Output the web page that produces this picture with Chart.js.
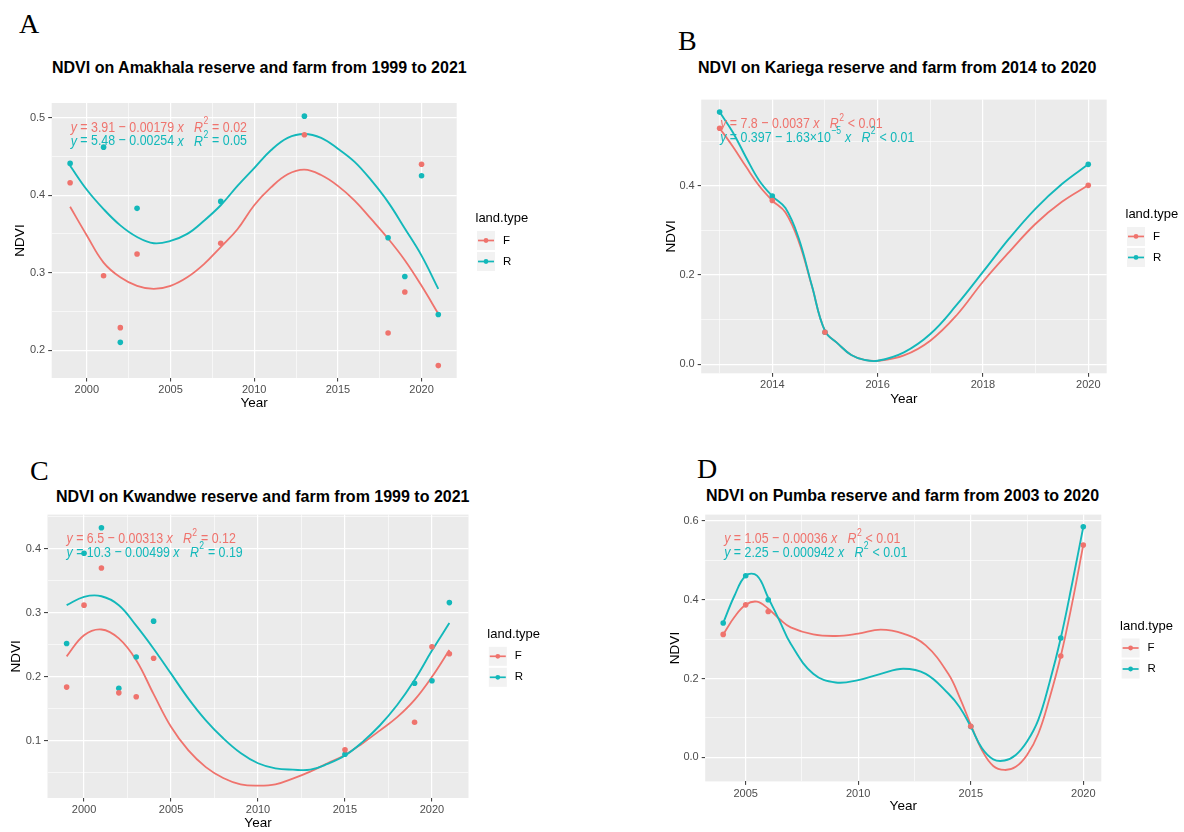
<!DOCTYPE html>
<html>
<head>
<meta charset="utf-8">
<title>NDVI on reserves and farms</title>
<script src="https://cdn.jsdelivr.net/npm/chart.js@4.4.1/dist/chart.umd.min.js"></script>
<style>
  html, body { margin: 0; padding: 0; background: #ffffff; }
  body { width: 1184px; height: 832px; position: relative; overflow: hidden;
         font-family: "Liberation Sans", Arial, sans-serif; }
  .letter { position: absolute; font-family: "Liberation Serif", "Times New Roman", serif;
            font-size: 28px; line-height: 28px; color: #000; }
  .title { position: absolute; font-weight: bold; font-size: 16px; line-height: 16px;
           color: #000; white-space: nowrap; }
  canvas { position: absolute; }
</style>
</head>
<body>
<div class="letter" style="left:19px;top:10px">A</div>
<div class="letter" style="left:678px;top:27px">B</div>
<div class="letter" style="left:30px;top:457px">C</div>
<div class="letter" style="left:697px;top:455px">D</div>

<div class="title" style="left:52px;top:60px">NDVI on Amakhala reserve and farm from 1999 to 2021</div>
<div class="title" style="left:698px;top:60px">NDVI on Kariega reserve and farm from 2014 to 2020</div>
<div class="title" style="left:56px;top:489px">NDVI on Kwandwe reserve and farm from 1999 to 2021</div>
<div class="title" style="left:706px;top:488px">NDVI on Pumba reserve and farm from 2003 to 2020</div>

<canvas id="chartA" width="592" height="340" style="left:0px;top:90px"></canvas>
<canvas id="chartB" width="584" height="340" style="left:600px;top:90px"></canvas>
<canvas id="chartC" width="592" height="327" style="left:0px;top:505px"></canvas>
<canvas id="chartD" width="584" height="327" style="left:600px;top:505px"></canvas>

<script>
// ---------- shared labels ----------
const seriesNames = ['F', 'R'];
const legendTitle = 'land.type';
const xAxisTitle = 'Year';
const yAxisTitle = 'NDVI';

// ---------- Amakhala (1999-2021) ----------
const amakhalaYears = [1999, 2001, 2002, 2003, 2008, 2013, 2018, 2019, 2020, 2021];
const amakhalaFarm = [0.416, 0.296, 0.229, 0.324, 0.338, 0.478, 0.222, 0.275, 0.440, 0.180];
const amakhalaReserve = [0.441, 0.462, 0.210, 0.383, 0.392, 0.502, 0.345, 0.295, 0.425, 0.246];
const amakhalaFitYears = [1999, 2000, 2001, 2002, 2003, 2004, 2005, 2006, 2007, 2008, 2009, 2010,
                          2011, 2012, 2013, 2014, 2015, 2016, 2017, 2018, 2019, 2020, 2021];
const amakhalaFarmFit = [0.385, 0.348, 0.313, 0.294, 0.283, 0.279, 0.283, 0.294, 0.311, 0.333, 0.356, 0.387,
                         0.410, 0.427, 0.433, 0.426, 0.412, 0.393, 0.369, 0.344, 0.316, 0.283, 0.247];
const amakhalaReserveFit = [0.438, 0.407, 0.382, 0.361, 0.346, 0.338, 0.341, 0.350, 0.367, 0.387, 0.412, 0.435,
                            0.458, 0.474, 0.479, 0.474, 0.460, 0.443, 0.419, 0.391, 0.357, 0.322, 0.279];
const amakhalaXTicks = ['2000', '2005', '2010', '2015', '2020'];
const amakhalaYTicks = ['0.2', '0.3', '0.4', '0.5'];
const amakhalaEquations = ['y = 3.91 − 0.00179 x   R^2 = 0.02', 'y = 5.48 − 0.00254 x   R^2 = 0.05'];

// ---------- Kariega (2013-2020) ----------
const kariegaYears = [2013, 2014, 2015, 2020];
const kariegaFarm = [0.529, 0.367, 0.072, 0.401];
const kariegaReserve = [0.565, 0.377, 0.072, 0.448];
const kariegaFitYears = [2013, 2013.25, 2013.5, 2013.75, 2014, 2014.25, 2014.5, 2014.75, 2015, 2015.25, 2015.5,
                         2015.75, 2016, 2016.5, 2017, 2017.5, 2018, 2018.5, 2019, 2019.5, 2020];
const kariegaFarmFit = [0.529, 0.488, 0.443, 0.400, 0.367, 0.340, 0.276, 0.176, 0.075, 0.046, 0.021,
                        0.010, 0.008, 0.020, 0.053, 0.110, 0.185, 0.252, 0.315, 0.364, 0.401];
const kariegaReserveFit = [0.565, 0.520, 0.464, 0.412, 0.377, 0.350, 0.283, 0.177, 0.075, 0.046, 0.021,
                           0.010, 0.008, 0.027, 0.068, 0.133, 0.207, 0.282, 0.349, 0.404, 0.448];
const kariegaXTicks = ['2014', '2016', '2018', '2020'];
const kariegaYTicks = ['0.0', '0.2', '0.4'];
const kariegaEquations = ['y = 7.8 − 0.0037 x   R^2 < 0.01', 'y = 0.397 − 1.63×10^−5 x   R^2 < 0.01'];

// ---------- Kwandwe (1999-2021) ----------
const kwandweYears = [1999, 2000, 2001, 2002, 2003, 2004, 2015, 2019, 2020, 2021];
const kwandweFarm = [0.184, 0.312, 0.370, 0.175, 0.169, 0.229, 0.086, 0.129, 0.247, 0.236];
const kwandweReserve = [0.252, 0.393, 0.433, 0.182, 0.231, 0.287, 0.079, 0.190, 0.194, 0.316];
const kwandweFitYears = [1999, 2000, 2001, 2002, 2003, 2004, 2005, 2006, 2007, 2008, 2009, 2010,
                         2011, 2012, 2013, 2014, 2015, 2016, 2017, 2018, 2019, 2020, 2021];
const kwandweFarmFit = [0.232, 0.265, 0.274, 0.260, 0.226, 0.173, 0.122, 0.085, 0.059, 0.042, 0.032, 0.030,
                        0.032, 0.041, 0.052, 0.065, 0.078, 0.096, 0.116, 0.137, 0.164, 0.200, 0.242];
const kwandweReserveFit = [0.312, 0.325, 0.326, 0.312, 0.280, 0.244, 0.205, 0.166, 0.132, 0.104, 0.081, 0.065,
                           0.057, 0.055, 0.055, 0.064, 0.077, 0.098, 0.124, 0.156, 0.195, 0.241, 0.284];
const kwandweXTicks = ['2000', '2005', '2010', '2015', '2020'];
const kwandweYTicks = ['0.1', '0.2', '0.3', '0.4'];
const kwandweEquations = ['y = 6.5 − 0.00313 x   R^2 = 0.12', 'y = 10.3 − 0.00499 x   R^2 = 0.19'];

// ---------- Pumba (2004-2020) ----------
const pumbaYears = [2004, 2005, 2006, 2015, 2019, 2020];
const pumbaFarm = [0.312, 0.387, 0.370, 0.079, 0.257, 0.539];
const pumbaReserve = [0.341, 0.461, 0.400, 0.078, 0.303, 0.585];
const pumbaFitYears = [2004, 2004.5, 2005, 2005.5, 2006, 2006.5, 2007, 2008, 2009, 2010, 2011, 2012, 2013,
                       2014, 2014.5, 2015, 2015.5, 2016, 2016.5, 2017, 2017.5, 2018, 2018.5, 2019, 2019.5, 2020];
const pumbaFarmFit = [0.312, 0.356, 0.387, 0.395, 0.377, 0.351, 0.330, 0.312, 0.308, 0.314, 0.324, 0.314, 0.284,
                      0.212, 0.153, 0.083, 0.018, -0.022, -0.032, -0.024, 0.006, 0.060, 0.150, 0.257, 0.390, 0.539];
const pumbaReserveFit = [0.341, 0.410, 0.461, 0.461, 0.405, 0.347, 0.288, 0.212, 0.190, 0.196, 0.212, 0.225, 0.212,
                         0.162, 0.128, 0.078, 0.023, -0.005, -0.008, 0.006, 0.040, 0.095, 0.190, 0.303, 0.440, 0.585];
const pumbaXTicks = ['2005', '2010', '2015', '2020'];
const pumbaYTicks = ['0.0', '0.2', '0.4', '0.6'];
const pumbaEquations = ['y = 1.05 − 0.00036 x   R^2 < 0.01', 'y = 2.25 − 0.000942 x   R^2 < 0.01'];

// ---------- styling ----------
const seriesColors = ['#EF736D', '#13B8BA'];
const panelFill = '#EBEBEB';
const tickTextColor = '#4D4D4D';
const baseFont = '"Liberation Sans", Arial, sans-serif';
const eqFont = '"Liberation Sans", Arial, sans-serif';
const axisTitleSize = 13.5;
const axisTitleHalf = axisTitleSize * 1.2 / 2;

// Grey panel behind the grid, as in a ggplot theme_gray panel
const panelBackground = {
  id: 'panelBackground',
  beforeDraw(chart) {
    const { ctx, chartArea: a } = chart;
    ctx.save();
    ctx.fillStyle = panelFill;
    ctx.fillRect(a.left, a.top, a.right - a.left, a.bottom - a.top);
    ctx.restore();
  }
};

// Draws an equation string condensed horizontally:
// x, y and R in italics, "^..." as a superscript
function drawRichText(ctx, text, x, yMid, size, color, squeeze) {
  ctx.save();
  ctx.translate(x, yMid);
  ctx.scale(squeeze, 1);
  let cx = 0;
  let i = 0;
  ctx.fillStyle = color;
  ctx.textBaseline = 'middle';
  ctx.textAlign = 'left';
  while (i < text.length) {
    const ch = text[i];
    if (ch === '^') {
      let j = i + 1;
      while (j < text.length && text[j] !== ' ') j++;
      const sup = text.slice(i + 1, j);
      ctx.font = (size * 0.7).toFixed(1) + 'px ' + eqFont;
      ctx.fillText(sup, cx + 0.5, -size * 0.42);
      cx += ctx.measureText(sup).width + 1;
      i = j;
      continue;
    }
    const italic = (ch === 'x' || ch === 'y' || ch === 'R');
    let j = i + 1;
    if (!italic) {
      while (j < text.length && text[j] !== '^' && !['x', 'y', 'R'].includes(text[j])) j++;
    }
    const run = text.slice(i, j);
    ctx.font = (italic ? 'italic ' : '') + size + 'px ' + eqFont;
    ctx.fillText(run, cx, 0);
    cx += ctx.measureText(run).width;
    i = j;
  }
  ctx.restore();
}

// Regression equations in the top-left corner of each panel
const fitEquations = {
  id: 'fitEquations',
  afterDatasetsDraw(chart, args, opts) {
    const { ctx, chartArea: a } = chart;
    opts.lines.forEach((line, k) => {
      drawRichText(ctx, line, a.left + opts.dx, a.top + opts.dy + k * opts.gap,
                   opts.size, seriesColors[k], opts.squeeze);
    });
  }
};

// Legend to the right of the panel: title, grey key boxes with line + point
const sideLegend = {
  id: 'sideLegend',
  afterDraw(chart, args, opts) {
    const { ctx, chartArea: a } = chart;
    const items = chart.data.datasets.filter(d => d.legendKey);
    const keyLeft = a.right + 20.3;
    const mid = (a.top + a.bottom) / 2;
    ctx.save();
    ctx.fillStyle = '#000';
    ctx.font = '13px ' + baseFont;
    ctx.textBaseline = 'middle';
    ctx.textAlign = 'left';
    ctx.fillText(opts.title, keyLeft - 1.5, mid - 22);
    items.forEach((d, k) => {
      const yc = mid + k * 21;
      ctx.fillStyle = '#F2F2F2';
      ctx.fillRect(keyLeft, yc - 9.5, 18, 19);
      ctx.strokeStyle = d.backgroundColor;
      ctx.lineWidth = 1.7;
      ctx.beginPath();
      ctx.moveTo(keyLeft + 1, yc);
      ctx.lineTo(keyLeft + 17, yc);
      ctx.stroke();
      ctx.fillStyle = d.backgroundColor;
      ctx.beginPath();
      ctx.arc(keyLeft + 9, yc, 2.4, 0, Math.PI * 2);
      ctx.fill();
      ctx.fillStyle = '#000';
      ctx.font = '11.5px ' + baseFont;
      ctx.fillText(d.label, keyLeft + 26, yc);
    });
    ctx.restore();
  }
};

// Major ticks carry labels and tick marks; minor ones sit halfway between them
function tickList(labels, range) {
  const majors = labels.map(Number);
  const step = majors[1] - majors[0];
  const list = majors.map((v, i) => ({ value: v, label: labels[i], major: true }));
  const candidates = [majors[0] - step / 2].concat(majors.map(v => v + step / 2));
  candidates.forEach(v => {
    const r = Math.round(v * 1e6) / 1e6;
    if (r > range[0] && r < range[1]) list.push({ value: r, label: '', major: false });
  });
  return list.sort((p, q) => p.value - q.value);
}

function axisConfig(axis, ticks, range, fixedSize, titleText) {
  return {
    type: 'linear',
    position: axis === 'x' ? 'bottom' : 'left',
    min: range[0],
    max: range[1],
    bounds: 'data',
    afterBuildTicks(scale) { scale.ticks = ticks.map(t => ({ value: t.value })); },
    afterFit(scale) {
      if (axis === 'x') scale.height = fixedSize; else scale.width = fixedSize;
    },
    border: { display: false },
    grid: {
      color: '#FFFFFF',
      lineWidth: c => (ticks[c.index] && ticks[c.index].major ? 1.2 : 0.6),
      drawTicks: true,
      tickLength: 3.5,
      tickWidth: 1,
      tickColor: c => (ticks[c.index] && ticks[c.index].major ? '#333333' : 'rgba(0,0,0,0)')
    },
    ticks: {
      autoSkip: false,
      maxRotation: 0,
      minRotation: 0,
      padding: axis === 'x' ? 2 : 3,
      color: tickTextColor,
      font: { family: baseFont, size: 11 },
      callback: (v, i) => (ticks[i] ? ticks[i].label : '')
    },
    title: {
      display: true,
      text: titleText,
      color: '#000',
      padding: 0,
      font: { family: baseFont, size: axisTitleSize }
    }
  };
}

function toPoints(xs, ys) { return xs.map((x, i) => ({ x: x, y: ys[i] })); }

function buildPanel(p) {
  const box = p.box, a = p.area;
  const padLeft = p.yTitleX - axisTitleHalf - box.x;
  const yAxisWidth = a.l - box.x - padLeft;
  const padRight = box.x + box.w - a.r;
  const padTop = a.t - box.y;
  const xAxisHeight = p.xTitleY + axisTitleHalf - a.b;
  const padBottom = box.y + box.h - a.b - xAxisHeight;

  const xt = tickList(p.xTicks, p.xRange);
  const yt = tickList(p.yTicks, p.yRange);

  new Chart(document.getElementById(p.canvas), {
    type: 'scatter',
    data: {
      datasets: [
        { label: seriesNames[0], legendKey: true, data: toPoints(p.years, p.farm),
          backgroundColor: seriesColors[0], pointRadius: 2.8, pointBorderWidth: 0, showLine: false, order: 1 },
        { label: seriesNames[1], legendKey: true, data: toPoints(p.years, p.reserve),
          backgroundColor: seriesColors[1], pointRadius: 2.8, pointBorderWidth: 0, showLine: false, order: 2 },
        { label: seriesNames[0] + ' fit', data: toPoints(p.fitYears, p.farmFit), showLine: true,
          borderColor: seriesColors[0], backgroundColor: seriesColors[0], borderWidth: 1.8,
          pointRadius: 0, tension: 0.4, order: 4 },
        { label: seriesNames[1] + ' fit', data: toPoints(p.fitYears, p.reserveFit), showLine: true,
          borderColor: seriesColors[1], backgroundColor: seriesColors[1], borderWidth: 1.9,
          pointRadius: 0, tension: 0.4, order: 3 }
      ]
    },
    options: {
      responsive: false,
      maintainAspectRatio: false,
      animation: false,
      devicePixelRatio: 1,
      events: [],
      layout: { padding: { left: padLeft, right: padRight, top: padTop, bottom: padBottom } },
      scales: {
        x: axisConfig('x', xt, p.xRange, xAxisHeight, xAxisTitle),
        y: axisConfig('y', yt, p.yRange, yAxisWidth, yAxisTitle)
      },
      plugins: {
        legend: { display: false },
        tooltip: { enabled: false },
        title: { display: false },
        fitEquations: { lines: p.equations, dx: 19, dy: 24.5, gap: 13.7, size: 15.5, squeeze: 0.8 },
        sideLegend: { title: legendTitle }
      }
    },
    plugins: [panelBackground, fitEquations, sideLegend]
  });
}

buildPanel({
  canvas: 'chartA', box: { x: 0, y: 90, w: 592, h: 340 },
  area: { l: 51.7, t: 103, r: 456.7, b: 378 },
  xRange: [1997.9, 2022.1], yRange: [0.164, 0.519], yTitleX: 20, xTitleY: 403,
  xTicks: amakhalaXTicks, yTicks: amakhalaYTicks,
  years: amakhalaYears, farm: amakhalaFarm, reserve: amakhalaReserve,
  fitYears: amakhalaFitYears, farmFit: amakhalaFarmFit, reserveFit: amakhalaReserveFit,
  equations: amakhalaEquations
});

buildPanel({
  canvas: 'chartB', box: { x: 600, y: 90, w: 584, h: 340 },
  area: { l: 701.2, t: 99, r: 1106.7, b: 373.3 },
  xRange: [2012.65, 2020.35], yRange: [-0.02, 0.593], yTitleX: 671.7, xTitleY: 399,
  xTicks: kariegaXTicks, yTicks: kariegaYTicks,
  years: kariegaYears, farm: kariegaFarm, reserve: kariegaReserve,
  fitYears: kariegaFitYears, farmFit: kariegaFarmFit, reserveFit: kariegaReserveFit,
  equations: kariegaEquations
});

buildPanel({
  canvas: 'chartC', box: { x: 0, y: 505, w: 592, h: 327 },
  area: { l: 47.5, t: 514, r: 468.5, b: 798 },
  xRange: [1997.9, 2022.1], yRange: [0.0107, 0.4535], yTitleX: 16, xTitleY: 823,
  xTicks: kwandweXTicks, yTicks: kwandweYTicks,
  years: kwandweYears, farm: kwandweFarm, reserve: kwandweReserve,
  fitYears: kwandweFitYears, farmFit: kwandweFarmFit, reserveFit: kwandweReserveFit,
  equations: kwandweEquations
});

buildPanel({
  canvas: 'chartD', box: { x: 600, y: 505, w: 584, h: 327 },
  area: { l: 705.2, t: 513.7, r: 1101.3, b: 781.4 },
  xRange: [2003.2, 2020.8], yRange: [-0.061, 0.616], yTitleX: 675.7, xTitleY: 806.7,
  xTicks: pumbaXTicks, yTicks: pumbaYTicks,
  years: pumbaYears, farm: pumbaFarm, reserve: pumbaReserve,
  fitYears: pumbaFitYears, farmFit: pumbaFarmFit, reserveFit: pumbaReserveFit,
  equations: pumbaEquations
});
</script>
</body>
</html>
